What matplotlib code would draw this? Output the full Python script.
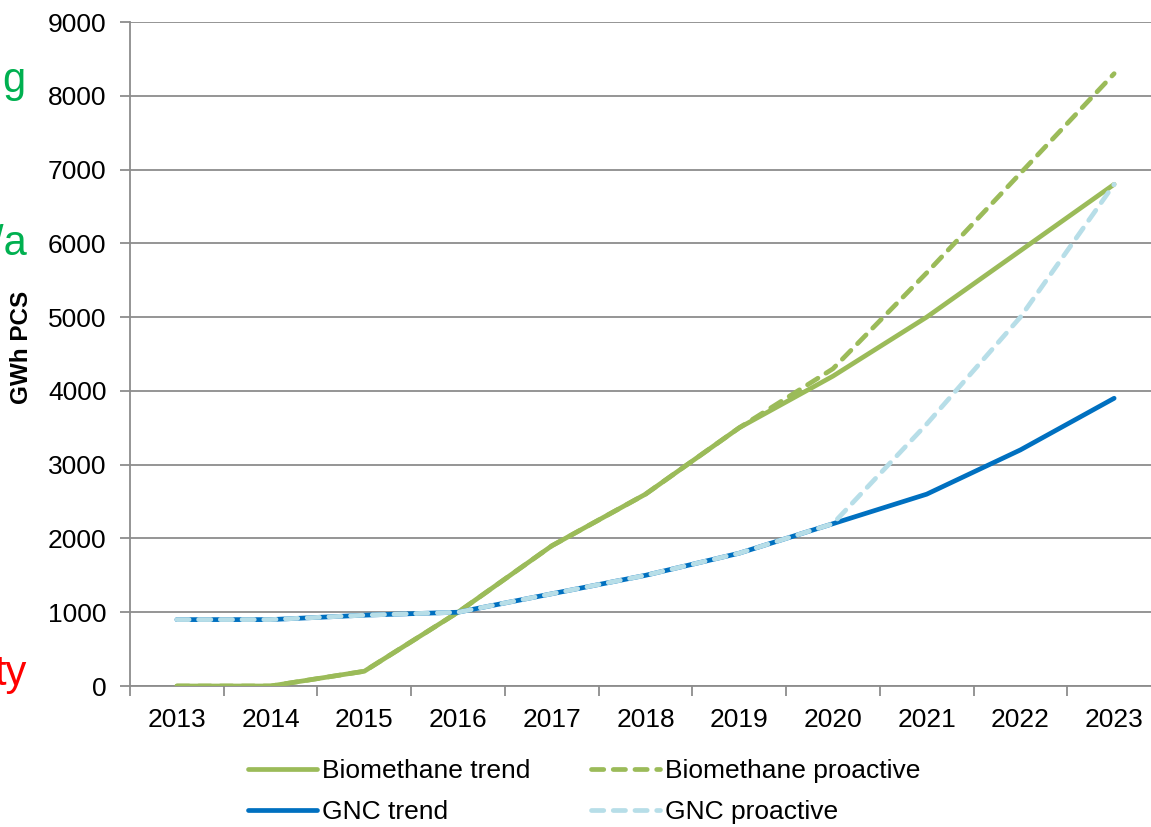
import matplotlib
matplotlib.use("Agg")
import matplotlib.pyplot as plt
import numpy as np

plt.rcParams['font.family'] = ['Liberation Sans', 'DejaVu Sans']

years = ['2013', '2014', '2015', '2016', '2017', '2018', '2019', '2020', '2021', '2022', '2023']
biomethane_trend = [0, 0, 200, 1000, 1900, 2600, 3500, 4200, 5000, 5900, 6800]
biomethane_proactive = [0, 0, 200, 1000, 1900, 2600, 3500, 4300, 5600, 6950, 8300]
gnc_trend = [900, 900, 960, 1000, 1250, 1500, 1800, 2200, 2600, 3200, 3900]
gnc_proactive = [900, 900, 960, 1000, 1250, 1500, 1800, 2200, 3550, 5000, 6800]
y_ticks = [0, 1000, 2000, 3000, 4000, 5000, 6000, 7000, 8000, 9000]

GREEN = '#9BBB59'
BLUE = '#0070C0'
LIGHT_BLUE = '#B7DEE8'
GRID = '#8C8C8C'

W, H = 1151, 827
fig = plt.figure(figsize=(W / 100, H / 100), dpi=100)
# axis spans a bit past the right edge of the image
ax = fig.add_axes([130 / W, 1 - 686 / H, (1161 - 130) / W, (686 - 22) / H])

x = np.arange(len(years))
dash = (0, (2.6, 2.0))
lw = 3.4
l1, = ax.plot(x, biomethane_trend, color=GREEN, lw=lw, solid_capstyle='round',
              solid_joinstyle='round', label='Biomethane trend', zorder=3)
l2, = ax.plot(x, biomethane_proactive, color=GREEN, lw=lw, linestyle=dash,
              dash_capstyle='round', label='Biomethane proactive', zorder=2)
l3, = ax.plot(x, gnc_trend, color=BLUE, lw=lw, solid_capstyle='round',
              solid_joinstyle='round', label='GNC trend', zorder=4)
l4, = ax.plot(x, gnc_proactive, color=LIGHT_BLUE, lw=lw, linestyle=dash,
              dash_capstyle='round', label='GNC proactive', zorder=5)

ax.set_xlim(-0.5, len(years) - 0.5)
ax.set_ylim(0, 9000)
ax.set_yticks(y_ticks)
ax.set_yticklabels([str(v) for v in y_ticks], fontsize=19)
ax.yaxis.grid(True, color=GRID, lw=1.3)
ax.set_axisbelow(True)

# category labels centred, tick marks on the boundaries
ax.set_xticks(np.arange(-0.5, len(years)), minor=False)
ax.set_xticklabels([])
ax.set_xticks(x, minor=True)
ax.set_xticklabels(years, minor=True, fontsize=19)
ax.tick_params(axis='x', which='major', length=7, width=1.3, color=GRID, direction='out')
ax.tick_params(axis='x', which='minor', length=0, pad=16)
ax.tick_params(axis='y', length=7, width=1.3, color=GRID, pad=10)

for s in ['top', 'right']:
    ax.spines[s].set_visible(False)
for s in ['left', 'bottom']:
    ax.spines[s].set_color(GRID)
    ax.spines[s].set_linewidth(1.3)

fig.text(22 / W, 1 - 347 / H, 'GWh PCS', rotation=90, fontsize=17.5,
         fontweight='bold', ha='center', va='center')

# fragments of text running off the left side
fig.text(25 / W, 1 - 92 / H, 'g', color='#00B050', fontsize=30, ha='right', va='baseline')
fig.text(27 / W, 1 - 255 / H, '/a', color='#00B050', fontsize=30, ha='right', va='baseline')
fig.text(27 / W, 1 - 685 / H, 'ty', color='#FF0000', fontsize=30, ha='right', va='baseline')

# two columns: trend on the left, proactive on the right
fig.legend([l1, l3, l2, l4],
           ['Biomethane trend', 'GNC trend', 'Biomethane proactive', 'GNC proactive'],
           loc='upper left', bbox_to_anchor=(248 / W, 1 - 759 / H), ncol=2,
           frameon=False, fontsize=19, handlelength=2.6, handletextpad=0.2,
           columnspacing=2.3, labelspacing=0.65, borderpad=0, borderaxespad=0)

fig.savefig('out.png', dpi=100)
